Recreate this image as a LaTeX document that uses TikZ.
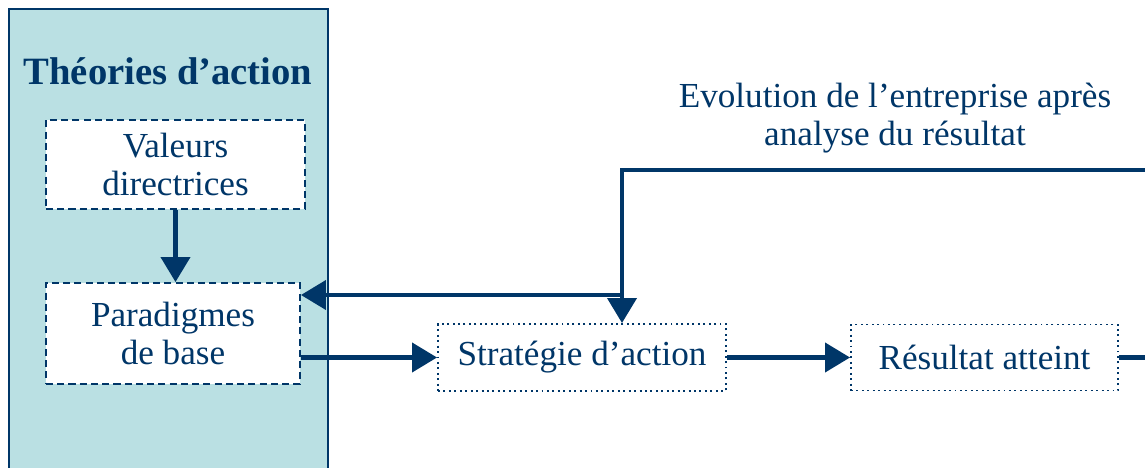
\documentclass[tikz,border=0pt]{standalone}
\usepackage{fontspec}
\setmainfont{Liberation Serif}
\usepackage{xcolor}
\usetikzlibrary{positioning,calc,arrows.meta}

\definecolor{navy}{RGB}{0,54,104}
\definecolor{panelcyan}{RGB}{186,224,227}

\tikzset{
    dashbox/.style={draw=navy, dash pattern=on 4pt off 2.4pt, line width=1.1pt, fill=white, align=center,
        text=navy, inner sep=0pt, font=\fontsize{20}{21.5}\selectfont},
    dotbox/.style={draw=navy, dotted, line width=1.1pt, fill=white, align=center,
        text=navy, inner sep=0pt, font=\fontsize{20}{21.5}\selectfont},
    conn/.style={draw=navy, line width=2.3pt, -{Triangle[length=0.5cm,width=0.58cm]}},
    plainconn/.style={draw=navy, line width=2.3pt}
}

\begin{document}
\begin{tikzpicture}
    \clip (0,0) rectangle (22.9,-9.36);
    \fill[white] (0,0) rectangle (22.9,-9.36);

    % Theories panel
    \draw[navy, line width=1.3pt, fill=panelcyan] (0.18,-0.18) rectangle (6.56,-9.8);
    \node[text=navy, font=\fontsize{22}{24}\selectfont\bfseries] (title) at (3.36,-1.42) {Théories d’action};

    % Boxes
    \node[dashbox, minimum width=5.18cm, minimum height=1.78cm] (valeurs) at (3.51,-3.29) {Valeurs\\directrices};
    \node[dashbox, minimum width=5.08cm, minimum height=2.02cm] (paradigmes) at (3.46,-6.67) {Paradigmes\\de base};
    \node[dotbox, minimum width=5.76cm, minimum height=1.34cm] (strategie) at (11.64,-7.15) {Stratégie d’action};
    \node[dotbox, minimum width=5.34cm, minimum height=1.32cm] (resultat) at (19.69,-7.15) {Résultat atteint};

    % Feedback label
    \node[text=navy, align=center, font=\fontsize{20}{21.5}\selectfont] (evolution) at (17.9,-2.36)
        {Evolution de l’entreprise après\\analyse du résultat};

    % Feedback path
    \coordinate (fbin) at (23.2,-3.4);
    \coordinate (fbturn) at (12.44,-3.4);
    \coordinate (fbsplit) at (12.44,-5.9);
    \coordinate (edgeR) at (23.2,-7.15);

    % Connectors
    \draw[conn] (valeurs.south) -- (valeurs.south |- paradigmes.north);
    \draw[conn] (paradigmes.east |- strategie.west) -- (strategie.west);
    \draw[conn] (strategie.east) -- (strategie.east -| resultat.west);
    \draw[plainconn] (resultat.east) -- (edgeR);
    \draw[conn] (fbin) -- (fbturn) -- (fbturn |- strategie.north);
    \draw[conn] (fbsplit) -- (paradigmes.east |- fbsplit);
\end{tikzpicture}
\end{document}
